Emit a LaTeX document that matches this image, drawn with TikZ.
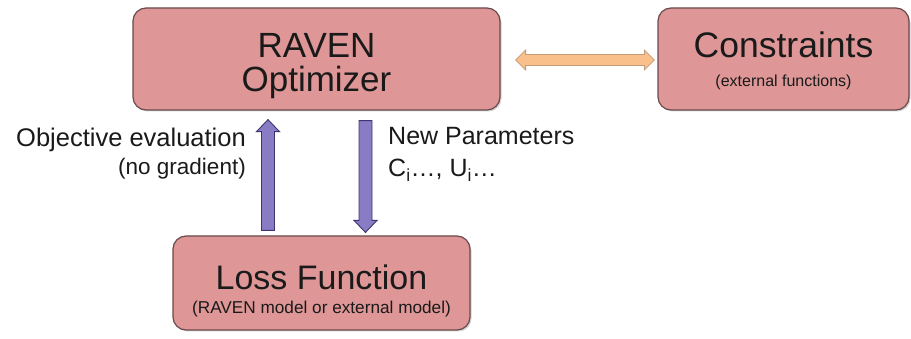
\documentclass[tikz,border=0pt]{standalone}
\usepackage{fontspec}
\setmainfont{Liberation Sans}
\usetikzlibrary{calc,shadows}
\definecolor{boxfill}{HTML}{DE9696}
\definecolor{boxline}{HTML}{6A4A4A}
\definecolor{upfill}{HTML}{8A7CC4}
\definecolor{upline}{HTML}{3E3470}
\definecolor{orfill}{HTML}{F9C08C}
\definecolor{orline}{HTML}{C49A78}
\definecolor{txt}{HTML}{1A1A1A}
\tikzset{
  box/.style={draw=boxline, line width=1.2pt, fill=boxfill, rounded corners=13pt,
    align=center, text=txt, inner sep=0pt,
    drop shadow={shadow xshift=1.5pt, shadow yshift=-1.5pt, opacity=0.35}},
  vflow/.style={draw=upline, line width=0.9pt, fill=upfill, line join=miter},
  hflow/.style={draw=orline, line width=0.8pt, fill=orfill, line join=miter},
  lbl/.style={text=txt, inner sep=0pt, anchor=base}
}
\begin{document}
\begin{tikzpicture}[x=1pt,y=-1pt]
\useasboundingbox (0,0) rectangle (911,339);
\node[box, minimum width=367pt, minimum height=102pt] (opt) at (316.5,59) {};
\node[box, minimum width=251pt, minimum height=102pt] (con) at (783.5,59) {};
\node[box, minimum width=297pt, minimum height=94pt] (loss) at (321.5,283) {};

\node[lbl] (optA) at (316.5,58) {\fontsize{35}{35}\selectfont RAVEN};
\node[lbl] (optB) at (316.5,92) {\fontsize{35}{35}\selectfont Optimizer};
\node[lbl] (conA) at (783.5,58) {\fontsize{35.5}{35}\selectfont Constraints};
\node[lbl] (conB) at (783.5,87) {\fontsize{16}{17}\selectfont (external functions)};
\node[lbl] (lossA) at (321.5,290) {\fontsize{34}{34}\selectfont Loss Function};
\node[lbl] (lossB) at (321.5,313) {\fontsize{17.2}{18}\selectfont (RAVEN model or external model)};

\node[lbl, anchor=base east] (objA) at (246,147) {\fontsize{25.5}{26}\selectfont Objective evaluation};
\node[lbl, anchor=base east] (objB) at (246,175) {\fontsize{22.5}{23}\selectfont (no gradient)};
\node[lbl, anchor=base west] (parA) at (388,145) {\fontsize{25}{26}\selectfont New Parameters};
\node[lbl, anchor=base west] (parB) at (388,177) {\fontsize{25}{26}\selectfont C\textsubscript{i}\ldots, U\textsubscript{i}\ldots};

% upward arrow: loss -> opt
\coordinate (ub) at ($(loss.north -| 268,0)+(0,-5)$);
\coordinate (ut) at ($(opt.south -| 268,0)+(0,9)$);
\draw[vflow] ($(ub)+(-6.5,0)$) -- ($(ut)+(-6.5,12)$) -- ($(ut)+(-11.5,12)$) -- (ut)
  -- ($(ut)+(11.5,12)$) -- ($(ut)+(6.5,12)$) -- ($(ub)+(6.5,0)$) -- cycle;
% downward arrow: opt -> loss
\coordinate (dt) at ($(opt.south -| 365.5,0)+(0,10)$);
\coordinate (db) at ($(loss.north -| 365.5,0)+(0,-3)$);
\draw[vflow] ($(dt)+(-6.5,0)$) -- ($(db)+(-6.5,-12)$) -- ($(db)+(-11.5,-12)$) -- (db)
  -- ($(db)+(11.5,-12)$) -- ($(db)+(6.5,-12)$) -- ($(dt)+(6.5,0)$) -- cycle;
% double arrow opt <-> con
\coordinate (hl) at ($(opt.east |- 0,60)+(15,0)$);
\coordinate (hr) at ($(con.west |- 0,60)+(-3,0)$);
\draw[hflow] (hl) -- ($(hl)+(10,-10)$) -- ($(hl)+(10,-5.5)$) -- ($(hr)+(-10,-5.5)$)
  -- ($(hr)+(-10,-10)$) -- (hr) -- ($(hr)+(-10,10)$) -- ($(hr)+(-10,5.5)$)
  -- ($(hl)+(10,5.5)$) -- ($(hl)+(10,10)$) -- cycle;
\end{tikzpicture}
\end{document}
